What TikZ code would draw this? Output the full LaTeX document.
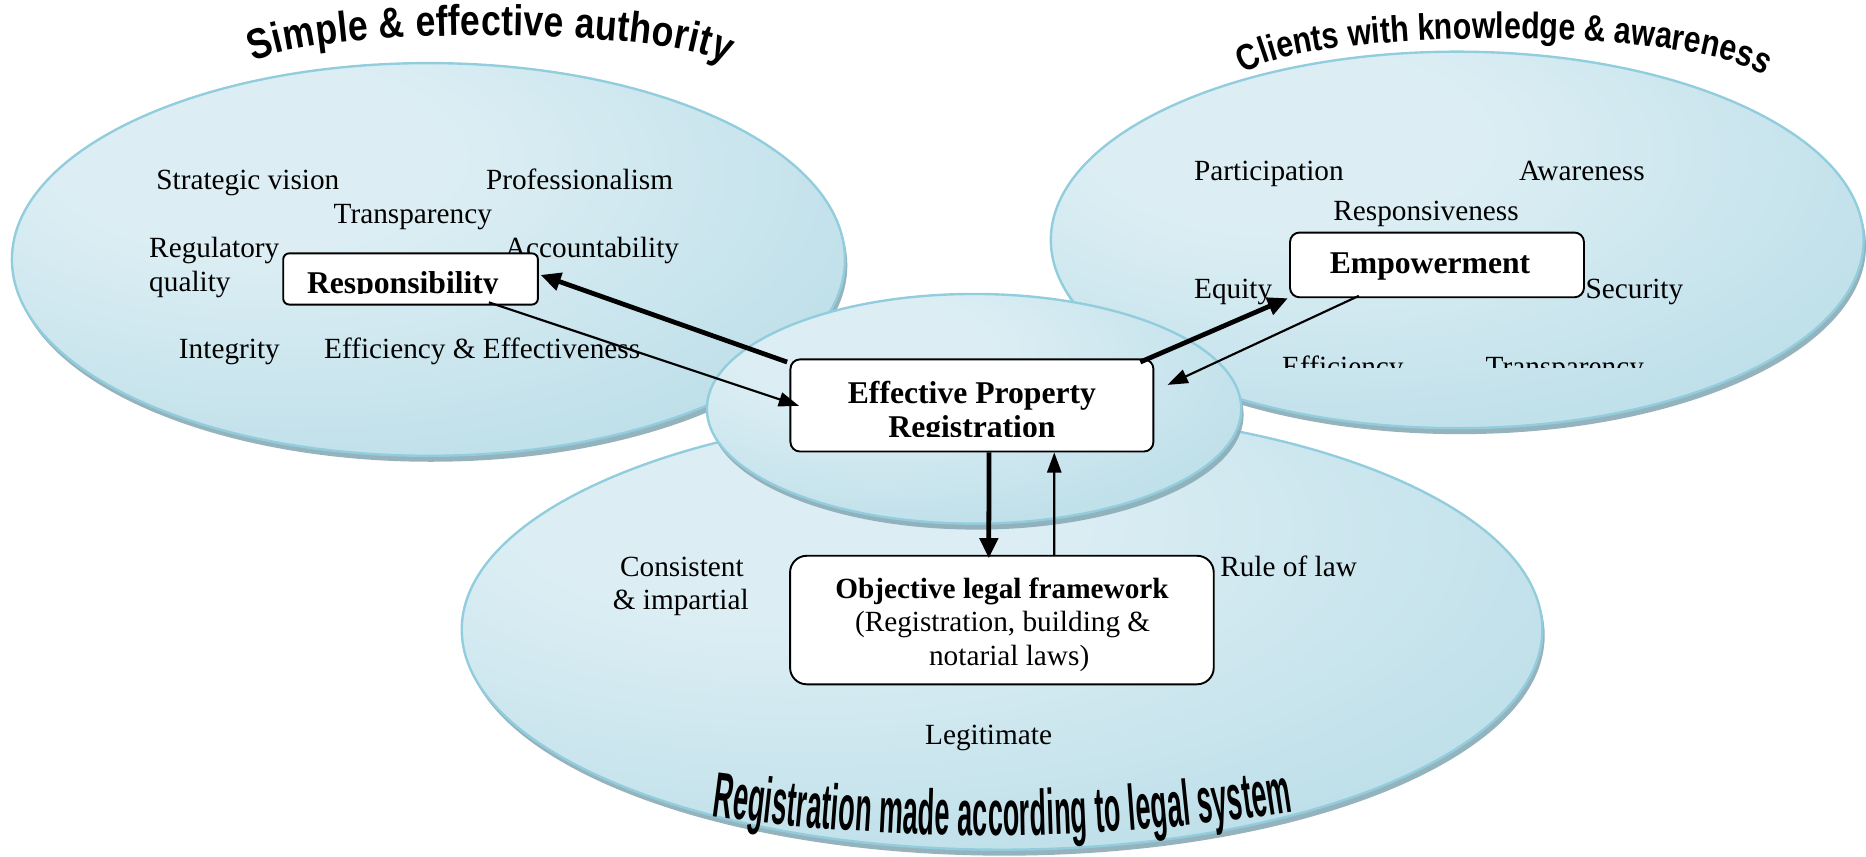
\documentclass[tikz,border=0pt]{standalone}
\usepackage{fontspec}
\setmainfont{Liberation Serif}
\newfontfamily\dgsansA{Liberation Sans}[FakeStretch=0.83]
\newfontfamily\dgsansB{Liberation Sans}[FakeStretch=0.82]
\newfontfamily\dgnarrow{Liberation Sans}[FakeStretch=0.42]
\usetikzlibrary{arrows.meta,shapes.geometric,shadows,decorations.text}
\definecolor{elllight}{HTML}{DCEEF4}
\definecolor{elldark}{HTML}{A4D2E0}
\definecolor{ellborder}{HTML}{92CDDD}
\definecolor{shadowcol}{HTML}{8AABB6}
\pgfdeclareradialshading{ellshade}{\pgfpoint{-12bp}{15bp}}{color(0bp)=(elllight); color(12bp)=(elllight); color(60bp)=(elldark); color(100bp)=(elldark)}
\newcommand\dgreg{\fontsize{12.3}{14}\selectfont}
\newcommand\dgbold{\bfseries\fontsize{13.3}{15}\selectfont}
\newcommand\dgboldsmall{\bfseries\fontsize{12.3}{14}\selectfont}
\newcommand\dgtitleA{\dgsansA\bfseries\fontsize{18}{18}\selectfont}
\newcommand\dgtitleB{\dgsansB\bfseries\fontsize{15.5}{16}\selectfont}
\newcommand\dgtitleC{\dgnarrow\bfseries\fontsize{27}{27}\selectfont}
\begin{document}
\begin{tikzpicture}[x=0.5pt,y=-0.5pt,
  ell/.style={ellipse, inner sep=0, shading=ellshade, draw=ellborder, line width=1pt,
    drop shadow={shadow xshift=1pt, shadow yshift=-2.5pt, fill=shadowcol, opacity=0.9}},
  box/.style={rectangle, draw=black, line width=0.8pt, fill=white, inner sep=0, rounded corners=4pt},
  lbl/.style={inner sep=0, anchor=base west, font=\dgreg},
  lblc/.style={inner sep=0, anchor=base, font=\dgreg},
  thickarr/.style={line width=2pt, -{Triangle[length=8.5pt,width=7.5pt]}},
  thinarr/.style={line width=0.9pt, -{Triangle[length=8.5pt,width=6pt]}}]
\useasboundingbox (0,0) rectangle (1568,720);

% ellipses
\node[ell, minimum width=350pt, minimum height=165pt] (auth) at (360,218) {};
\node[ell, minimum width=341.5pt, minimum height=158.2pt] (clients) at (1224.5,201.6) {};
\node[ell, minimum width=454pt, minimum height=185pt] (legal) at (842,529) {};
\node[ell, minimum width=224.5pt, minimum height=96.5pt] (core) at (818.5,343.5) {};

% titles
\coordinate (t1a) at (213,52);
\coordinate (t1b) at (610,54);
\path[decorate, decoration={text along path, text align=fit to path,
  text={|\dgtitleA|Simple {\&} effective authority}}]
  (t1a) .. controls (265,22) and (560,22) .. (t1b);
\coordinate (t2a) at (1045,62);
\coordinate (t2b) at (1482,64);
\path[decorate, decoration={text along path, text align=fit to path,
  text={|\dgtitleB|Clients with knowledge {\&} awareness}}]
  (t2a) .. controls (1100,22) and (1425,22) .. (t2b);
\coordinate (t3a) at (598,686);
\coordinate (t3b) at (1086,682);
\path[decorate, decoration={text along path, text align=fit to path,
  text={|\dgtitleC|Registration made according to legal system}}]
  (t3a) .. controls (760,708) and (920,708) .. (t3b);

% left ellipse words
\node[lbl] (sv) at (131,159) {Strategic vision};
\node[lbl] (pr) at (408,159) {Professionalism};
\node[lbl] (tr) at (280,188) {Transparency};
\node[lbl] (rq1) at (125,216.5) {Regulatory};
\node[lbl] (rq2) at (125,245) {quality};
\node[lbl] (ac) at (424,216.5) {Accountability};
\node[lbl] (in) at (150,301) {Integrity};
\node[lbl] (ee) at (272,301) {Efficiency \& Effectiveness};

% right ellipse words
\node[lbl] (pa) at (1003,152) {Participation};
\node[lbl] (aw) at (1276,152) {Awareness};
\node[lbl] (rs) at (1120,185) {Responsiveness};
\node[lbl] (eq) at (1003,251) {Equity};
\node[lbl] (se) at (1332,251) {Security};
\begin{scope}
  \clip (1000,280) rectangle (1450,308.6);
  \node[lbl] (ef) at (1077,316) {Efficiency};
  \node[lbl] (tr2) at (1248,316) {Transparency};
\end{scope}

% bottom ellipse words
\node[lblc] (co1) at (573,484) {Consistent};
\node[lblc] (co2) at (572,512) {\& impartial};
\node[lbl] (rl) at (1025,484) {Rule of law};
\node[lbl] (lg) at (777,626) {Legitimate};

% boxes
\node[box, rounded corners=2.5pt, minimum width=107pt, minimum height=21.5pt] (resp) at (345,234.4) {};
\node[box, minimum width=152.5pt, minimum height=38.7pt] (cbox) at (816.7,340.7) {};
\node[box, minimum width=123.5pt, minimum height=27.2pt] (emp) at (1207.5,222.6) {};
\node[box, rounded corners=7pt, minimum width=178pt, minimum height=54pt] (obj) at (841.9,521) {};

% box texts
\begin{scope}
  \clip (240,214) rectangle (450,246.4);
  \node[lbl, font=\dgbold] (respt) at (257.6,247) {Responsibility};
\end{scope}
\node[lblc, font=\dgbold] (cbt1) at (816.7,338.8) {Effective Property};
\begin{scope}
  \clip (670,342) rectangle (965,366.8);
  \node[lblc, font=\dgbold] (cbt2) at (816.7,367.3) {Registration};
\end{scope}
\node[lbl, font=\dgbold] (empt) at (1117,230.2) {Empowerment};
\node[lblc, font=\dgboldsmall] (ob1) at (842,503) {Objective legal framework};
\node[lblc] (ob2) at (842.5,531) {(Registration, building \&};
\node[lblc] (ob3) at (848,559) {notarial laws)};

% arrows
\draw[thickarr] ([shift={(-2,3)}]cbox.north west) -- ([shift={(1.4,-3.4)}]resp.east);
\draw[thinarr] ([shift={(-42,-2.6)}]resp.south east) -- ([shift={(8,0.3)}]cbox.west);
\draw[thickarr] ([shift={(-11.8,3)}]cbox.north east) -- ([shift={(-1,0)}]emp.south west);
\draw[thinarr] ([shift={(-65.7,-2)}]emp.south) -- ([shift={(11.1,-17.3)}]cbox.east);
\draw[thickarr] ([shift={(14.3,0)}]cbox.south) -- ([shift={(-11,3)}]obj.north);
\draw[thinarr] ([shift={(44,0)}]obj.north) -- ([shift={(69.2,0)}]cbox.south);
\end{tikzpicture}
\end{document}
